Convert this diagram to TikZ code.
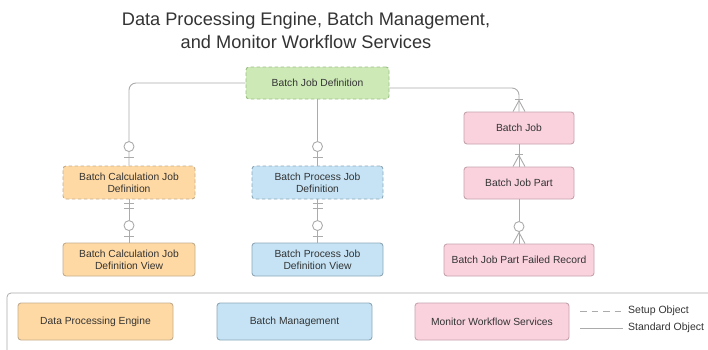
\documentclass[tikz,border=0pt]{standalone}
\usepackage{fontspec}
\setmainfont{Liberation Sans}
\usetikzlibrary{calc}
\definecolor{txt}{HTML}{333333}
\definecolor{ln}{HTML}{ABABAB}
\definecolor{gfill}{HTML}{CDE9B6}
\definecolor{gdraw}{HTML}{9CBF86}
\definecolor{ofill}{HTML}{FFD9A3}
\definecolor{odraw}{HTML}{C4AD8C}
\definecolor{bfill}{HTML}{C5E3F5}
\definecolor{bdraw}{HTML}{8EA8B8}
\definecolor{pfill}{HTML}{F9D2DE}
\definecolor{pdraw}{HTML}{C6A2AD}
\tikzset{
  box/.style={draw, rounded corners=3pt, line width=0.9pt, align=center, text=txt,
    font=\fontsize{10.3}{12}\selectfont, inner sep=0pt, minimum height=32pt},
  setupobj/.style={dash pattern=on 3.5pt off 2.5pt},
  gbox/.style={box, fill=gfill, draw=gdraw},
  obox/.style={box, fill=ofill, draw=odraw},
  bbox/.style={box, fill=bfill, draw=bdraw},
  pbox/.style={box, fill=pfill, draw=pdraw},
  conn/.style={draw=ln, line width=0.9pt},
  ermark/.style={draw=ln, line width=0.9pt, fill=white},
  legtxt/.style={anchor=west, text=txt, font=\fontsize{10.5}{13}\selectfont, inner sep=0pt}
}
\begin{document}
\begin{tikzpicture}[x=1pt, y=-1pt]
\useasboundingbox (0,0) rectangle (708,349);
% title
\node[text=txt, font=\fontsize{18.2}{23}\selectfont, align=center] (title) at (306,30)
  {Data Processing Engine, Batch Management,\\and Monitor Workflow Services};
% nodes
\node[gbox, setupobj, minimum width=143pt] (bjd) at (317.5,83) {Batch Job Definition};
\node[obox, setupobj, minimum width=132pt, minimum height=33pt] (bcjd) at (129,182.5) {Batch Calculation Job\\Definition};
\node[bbox, setupobj, minimum width=131pt, minimum height=33pt] (bpjd) at (317.5,182.5) {Batch Process Job\\Definition};
\node[obox, minimum width=132pt, minimum height=33pt] (bcjdv) at (129,259.5) {Batch Calculation Job\\Definition View};
\node[bbox, minimum width=131pt, minimum height=33pt] (bpjdv) at (317.5,259.5) {Batch Process Job\\Definition View};
\node[pbox, minimum width=110pt] (bj) at (519,128) {Batch Job};
\node[pbox, minimum width=110pt] (bjp) at (519,183) {Batch Job Part};
\node[pbox, minimum width=150pt] (bjpfr) at (519,260) {Batch Job Part Failed Record};
% connectors
\draw[conn, rounded corners=7pt] (bjd.west) -| (bcjd.north);
\draw[conn] (bjd.south) -- (bpjd.north);
\draw[conn, rounded corners=7pt] ($(bjd.east)+(0,5)$) -| (bj.north);
\draw[conn] (bcjd.south) -- (bcjdv.north);
\draw[conn] (bpjd.south) -- (bpjdv.north);
\draw[conn] (bj.south) -- (bjp.north);
\draw[conn] (bjp.south) -- (bjpfr.north);
% marks: zero or one at child (definitions)
\foreach \n in {bcjd,bpjd}{
  \draw[ermark] ($(\n.north)+(0,-19)$) circle (5pt);
  \draw[ermark] ($(\n.north)+(-5,-8)$) -- ($(\n.north)+(5,-8)$);
}
% one and only one at parent / zero or one at child (views)
\foreach \p/\c in {bcjd/bcjdv,bpjd/bpjdv}{
  \draw[ermark] ($(\p.south)+(-5,4)$) -- ($(\p.south)+(5,4)$);
  \draw[ermark] ($(\p.south)+(-5,9)$) -- ($(\p.south)+(5,9)$);
  \draw[ermark] ($(\c.north)+(0,-17)$) circle (5pt);
  \draw[ermark] ($(\c.north)+(-5,-6)$) -- ($(\c.north)+(5,-6)$);
}
% one or many (crow's foot)
\foreach \n in {bj,bjp}{
  \draw[ermark] ($(\n.north)+(-4,-12)$) -- ($(\n.north)+(4,-12)$);
  \draw[ermark, fill=none] ($(\n.north)+(-6,0)$) -- ($(\n.north)+(0,-11)$) -- ($(\n.north)+(6,0)$);
}
% zero or many
\draw[ermark] ($(bjpfr.north)+(0,-17)$) circle (5pt);
\draw[ermark, fill=none] ($(bjpfr.north)+(-6,0)$) -- ($(bjpfr.north)+(0,-11)$) -- ($(bjpfr.north)+(6,0)$);
% legend
\draw[draw=ln, line width=0.8pt, rounded corners=4pt] (7,293) rectangle (730,360);
\node[obox, minimum width=155pt, minimum height=37pt] (lde) at (95.5,321.5) {Data Processing Engine};
\node[bbox, minimum width=155pt, minimum height=37pt] (lbm) at (294.5,321.5) {Batch Management};
\node[pbox, minimum width=154pt, minimum height=37pt] (lmw) at (492,321.5) {Monitor Workflow Services};
\node[legtxt] (lsetup) at (628,311) {Setup Object};
\node[legtxt] (lstd) at (628,328) {Standard Object};
\coordinate (ls1) at (580,311);
\coordinate (ls2) at (580,328);
\draw[conn, dash pattern=on 6.5pt off 5pt] (ls1) -- ($(lsetup.west)+(-5,0)$);
\draw[conn] (ls2) -- ($(lstd.west)+(-5,0)$);
\end{tikzpicture}
\end{document}
